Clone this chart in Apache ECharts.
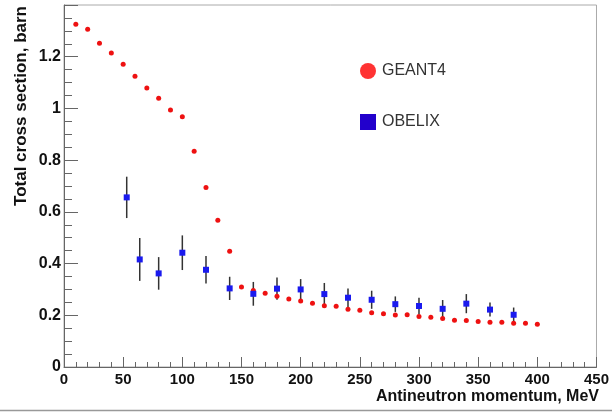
<!DOCTYPE html>
<html>
<head>
<meta charset="utf-8">
<script src="https://cdn.jsdelivr.net/npm/echarts@6/dist/echarts.min.js"></script>
<style>
  html, body { margin: 0; padding: 0; background: #fff; }
  #main { width: 612px; height: 413px; }
</style>
</head>
<body>
<div id="main"></div>
<script>
// GEANT4 simulation, momentum (MeV) vs total cross section (barn)
const geantMomentum = [10, 20, 30, 40, 50, 60, 70, 80, 90, 100, 110, 120, 130, 140, 150, 160, 170, 180, 190, 200,
  210, 220, 230, 240, 250, 260, 270, 280, 290, 300, 310, 320, 330, 340, 350, 360, 370, 380, 390, 400]
const geantSigma = [1.326, 1.306, 1.252, 1.214, 1.171, 1.124, 1.079, 1.039, 0.994, 0.968, 0.834, 0.694, 0.568, 0.448,
  0.309, 0.296, 0.285, 0.274, 0.263, 0.255, 0.247, 0.237, 0.235, 0.223, 0.219, 0.210, 0.206, 0.201, 0.202, 0.195,
  0.192, 0.188, 0.181, 0.180, 0.176, 0.173, 0.173, 0.169, 0.169, 0.165]

// OBELIX measurements with errors
const obelixMomentum = [53, 64, 80, 100, 120, 140, 160, 180, 200, 220, 240, 260, 280, 300, 320, 340, 360, 380]
const obelixSigma = [0.656, 0.416, 0.362, 0.442, 0.376, 0.304, 0.283, 0.303, 0.300, 0.282, 0.268, 0.260, 0.243,
  0.236, 0.225, 0.245, 0.222, 0.202]
const obelixError = [0.080, 0.083, 0.063, 0.067, 0.053, 0.045, 0.046, 0.043, 0.040, 0.043, 0.036, 0.035, 0.030,
  0.032, 0.034, 0.037, 0.027, 0.028]

const xTicks = { min: 0, max: 450, interval: 50 }
const yTicks = { min: 0, max: 1.4, interval: 0.2 }

const chart = echarts.init(document.getElementById('main'))

const geantData = geantMomentum.map((x, i) => [x, geantSigma[i]])
const obelixData = obelixMomentum.map((x, i) => [x, obelixSigma[i]])
const errData = obelixMomentum.map((x, i) => [x, obelixSigma[i] - obelixError[i], obelixSigma[i] + obelixError[i]])

const option = {
  animation: false,
  grid: {
    left: 64, right: 10, top: 5, bottom: 46,
    show: true, borderColor: '#aaa', borderWidth: 1, backgroundColor: '#fff'
  },
  legend: {
    orient: 'vertical',
    left: 355, top: 58,
    itemWidth: 16, itemHeight: 16, itemGap: 35,
    textStyle: { fontFamily: 'Liberation Sans', fontSize: 16, color: '#333', padding: [0, 0, 0, 1] },
    data: [
      { name: 'GEANT4', icon: 'circle', itemStyle: { color: '#ff3333', opacity: 1 } },
      { name: 'OBELIX', icon: 'rect', itemStyle: { color: '#2200cc', opacity: 1 } }
    ],
    selectedMode: false
  },
  xAxis: {
    type: 'value',
    min: xTicks.min, max: xTicks.max, interval: xTicks.interval,
    axisLine: { show: true, lineStyle: { color: '#666', width: 1 } },
    axisTick: { show: true, inside: true, length: 10, lineStyle: { color: '#666' } },
    minorTick: { show: true, splitNumber: 5, length: 5, lineStyle: { color: '#666' } },
    splitLine: { show: false },
    axisLabel: { fontFamily: 'Liberation Sans', fontWeight: 'bold', fontSize: 15, color: '#111', margin: 5 }
  },
  yAxis: {
    type: 'value',
    min: yTicks.min, max: yTicks.max, interval: yTicks.interval,
    axisLine: { show: true, lineStyle: { color: '#666', width: 1 } },
    axisTick: { show: true, inside: true, length: 14, lineStyle: { color: '#666' } },
    minorTick: { show: true, splitNumber: 4, length: 8, lineStyle: { color: '#666' } },
    splitLine: { show: false },
    axisLabel: {
      fontFamily: 'Liberation Sans', fontWeight: 'bold', fontSize: 16, color: '#111', margin: 3,
      formatter: v => (Math.abs(v - 1.4) < 1e-6 ? '' : String(+v.toFixed(1)))
    }
  },
  series: [
    {
      name: 'GEANT4',
      type: 'scatter',
      data: geantData,
      symbol: 'circle',
      symbolSize: 5,
      itemStyle: { color: '#ee1111', opacity: 1 },
      z: 3
    },
    {
      name: 'OBELIX err',
      type: 'custom',
      data: errData,
      renderItem: function (params, api) {
        const top = api.coord([api.value(0), api.value(2)])
        const bot = api.coord([api.value(0), api.value(1)])
        return {
          type: 'line',
          shape: { x1: top[0], y1: top[1], x2: bot[0], y2: bot[1] },
          style: { stroke: '#333', lineWidth: 1.5 }
        }
      },
      z: 2
    },
    {
      name: 'OBELIX',
      type: 'scatter',
      data: obelixData,
      symbol: 'rect',
      symbolSize: 6,
      itemStyle: { color: '#1a1aee', opacity: 1 },
      z: 4
    }
  ],
  graphic: [
    {
      type: 'text',
      x: 21, y: 106,
      rotation: Math.PI / 2,
      style: {
        text: 'Total cross section, barn',
        fontFamily: 'Liberation Sans', fontWeight: 'bold', fontSize: 17, fill: '#111',
        align: 'center', verticalAlign: 'middle'
      }
    },
    {
      type: 'text',
      x: 599, y: 397,
      style: {
        text: 'Antineutron momentum, MeV',
        fontFamily: 'Liberation Sans', fontWeight: 'bold', fontSize: 16, fill: '#111',
        align: 'right', verticalAlign: 'middle'
      }
    },
    {
      type: 'line',
      shape: { x1: 0, y1: 410.5, x2: 612, y2: 410.5 },
      style: { stroke: '#999', lineWidth: 1.5 }
    }
  ]
}

chart.setOption(option)
</script>
</body>
</html>
